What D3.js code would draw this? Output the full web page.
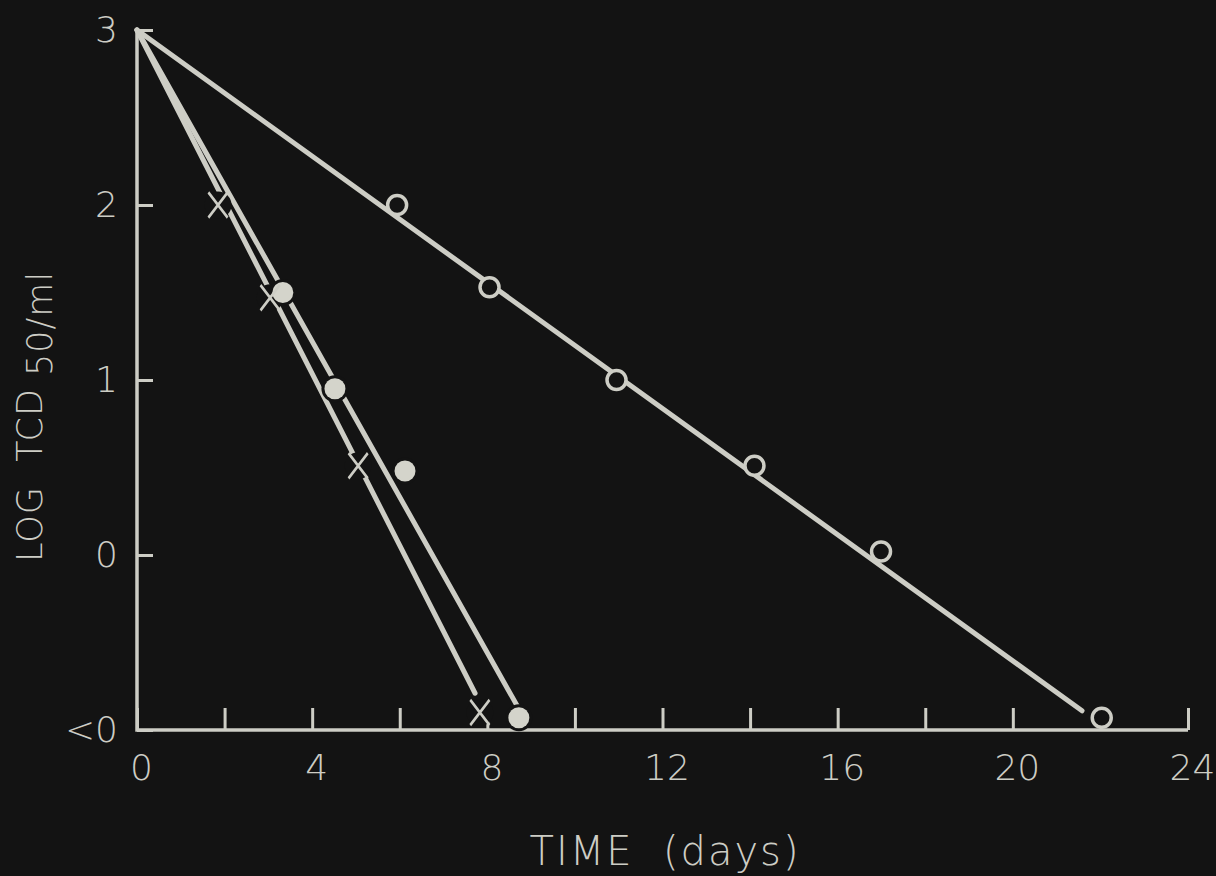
<!DOCTYPE html>
<html>
<head>
<meta charset="utf-8">
<script src="https://cdn.jsdelivr.net/npm/d3@7"></script>
<style>
  html, body { margin: 0; padding: 0; background: #131313; }
  svg { display: block; }
</style>
</head>
<body>
<div id="chart"></div>
<script>
// data (x: days, y: log TCD50/ml, -1 stands for "<0")
const openDays = [5.94, 8.05, 10.95, 14.1, 16.99, 22.03]
const openLog = [2.0, 1.53, 1.0, 0.51, 0.02, -0.93]
const filledDays = [3.33, 4.52, 6.12, 8.72]
const filledLog = [1.5, 0.95, 0.48, -0.93]
const crossDays = [1.85, 3.04, 5.05, 7.83]
const crossLog = [2.0, 1.47, 0.51, -0.9]

// fitted lines, all from (0, 3)
const openFit = [[0, 3], [21.58, -0.89]]
const filledFit = [[0, 3], [8.7, -0.87]]
const crossFit = [[0, 3], [7.72, -0.79]]

const xTicks = [0, 2, 4, 6, 8, 10, 12, 14, 16, 18, 20, 22, 24]
const yTicks = [3, 2, 1, 0, -1]
const yTickLabels = ["3", "2", "1", "0", "<0"]

const width = 1216
const height = 876
const bg = "#131313"
const ink = "#cdcdc5"
const font = "'DejaVu Sans', sans-serif"

const x = d3.scaleLinear().domain([0, 24]).range([137, 1188])
const y = d3.scaleLinear().domain([-1, 3]).range([730, 30])

const svg = d3.select("#chart")
  .append("svg")
  .attr("width", width)
  .attr("height", height)

svg.append("rect")
  .attr("width", width)
  .attr("height", height)
  .attr("fill", bg)

// axes
const xAxis = d3.axisBottom(x)
  .tickValues(xTicks)
  .tickSizeInner(-22)
  .tickSizeOuter(0)
  .tickPadding(24)
  .tickFormat(d => d % 4 === 0 ? d : "")

const yAxis = d3.axisLeft(y)
  .tickValues(yTicks)
  .tickSizeInner(-16)
  .tickSizeOuter(0)
  .tickPadding(19)
  .tickFormat((d, i) => yTickLabels[i])

const gx = svg.append("g")
  .attr("transform", `translate(0,${y(-1)})`)
  .call(xAxis)
const gy = svg.append("g")
  .attr("transform", `translate(${x(0)},0)`)
  .call(yAxis)

for (const g of [gx, gy]) {
  g.select(".domain").remove()
  g.selectAll("line").attr("stroke", ink).attr("stroke-width", 3)
  g.selectAll("text")
    .attr("fill", ink)
    .attr("font-family", font)
    .attr("font-weight", 200)
    .attr("font-size", 36)
}
gx.selectAll("text").attr("dx", 4)

// axis lines
svg.append("path")
  .attr("d", d3.line()([[x(0), y(3)], [x(0), y(-1)], [x(24), y(-1)]]))
  .attr("fill", "none")
  .attr("stroke", ink)
  .attr("stroke-width", 3.5)

// titles
svg.append("text")
  .attr("x", 665)
  .attr("y", 865)
  .attr("text-anchor", "middle")
  .attr("fill", ink)
  .attr("font-family", font)
  .attr("font-weight", 200)
  .attr("font-size", 40)
  .attr("letter-spacing", 2)
  .attr("xml:space", "preserve")
  .text("TIME  (days)")

const yt = svg.append("text")
  .attr("transform", "translate(42,562) rotate(-90)")
  .attr("fill", ink)
  .attr("font-family", font)
  .attr("font-weight", 200)
  .attr("font-size", 35)
  .attr("letter-spacing", 1)
  .attr("xml:space", "preserve")
yt.append("tspan").text("LOG  TCD ")
yt.append("tspan").attr("dy", 10).text("50/ml")

// fitted lines
const line = d3.line().x(d => x(d[0])).y(d => y(d[1]))
for (const fit of [openFit, filledFit, crossFit]) {
  svg.append("path")
    .attr("d", line(fit))
    .attr("fill", "none")
    .attr("stroke", ink)
    .attr("stroke-width", 5)
    .attr("stroke-linecap", "round")
}

// gaps in lines around filled and cross markers
const crossPts = crossDays.map((d, i) => [d, crossLog[i]])
const filledPts = filledDays.map((d, i) => [d, filledLog[i]])
const openPts = openDays.map((d, i) => [d, openLog[i]])

svg.append("g").selectAll("circle")
  .data(crossPts.concat(filledPts))
  .join("circle")
  .attr("cx", d => x(d[0]))
  .attr("cy", d => y(d[1]))
  .attr("r", 13.5)
  .attr("fill", bg)

// open circles
svg.append("g").selectAll("circle")
  .data(openPts)
  .join("circle")
  .attr("cx", d => x(d[0]))
  .attr("cy", d => y(d[1]))
  .attr("r", 9.5)
  .attr("fill", bg)
  .attr("stroke", ink)
  .attr("stroke-width", 3.5)

// filled circles
svg.append("g").selectAll("circle")
  .data(filledPts)
  .join("circle")
  .attr("cx", d => x(d[0]))
  .attr("cy", d => y(d[1]))
  .attr("r", 10.5)
  .attr("fill", "#d4d4cb")

// crosses
const cross = d3.symbol(d3.symbolX, 380)
svg.append("g").selectAll("path")
  .data(crossPts)
  .join("path")
  .attr("transform", d => `translate(${x(d[0])},${y(d[1])}) scale(0.8,1.05)`)
  .attr("d", cross)
  .attr("fill", "none")
  .attr("stroke", ink)
  .attr("stroke-width", 3)
</script>
</body>
</html>
